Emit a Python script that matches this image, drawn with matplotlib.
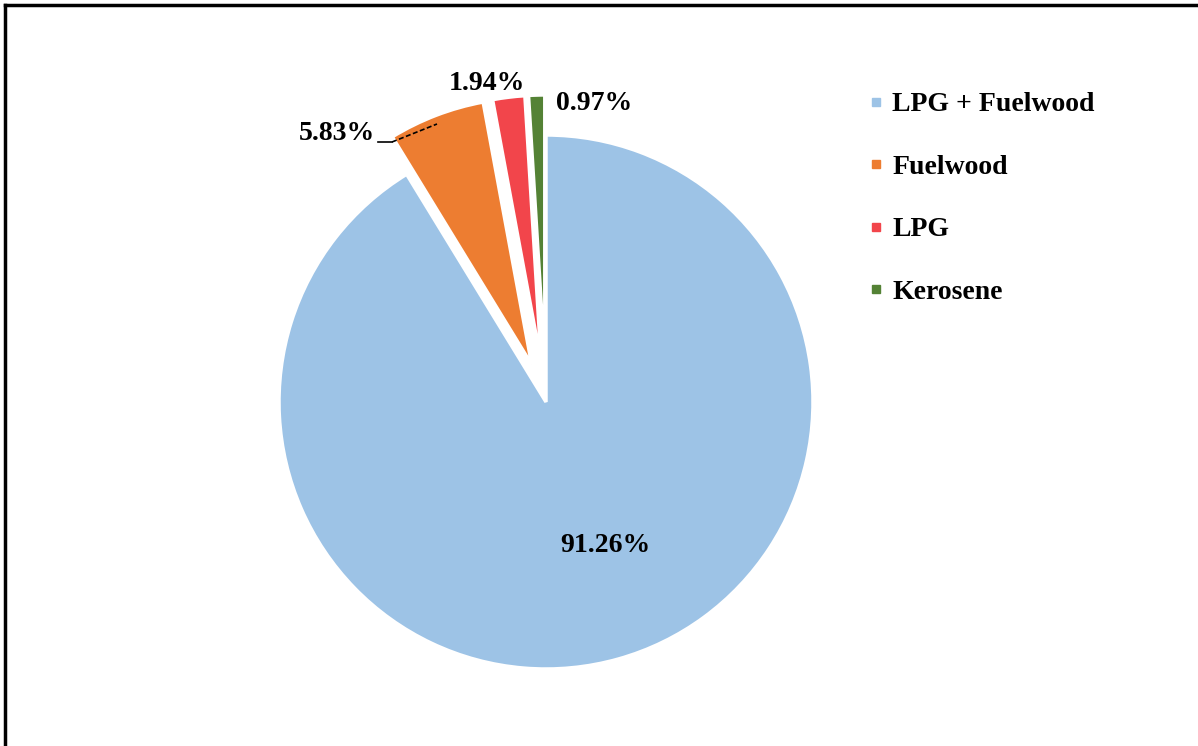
# -*- coding: utf-8 -*-
# pie chart of household cooking fuel use
import matplotlib
matplotlib.use('Agg')
import matplotlib.pyplot as plt
from matplotlib.lines import Line2D

# fuel categories and their share (%)
fuels = ['LPG + Fuelwood', 'Fuelwood', 'LPG', 'Kerosene']
shares = [91.26, 5.83, 1.94, 0.97]
colors = ['#9DC3E6', '#ED7D31', '#F2454B', '#548235']
explode = [0, 0.15, 0.15, 0.15]

plt.rcParams['font.family'] = ['Liberation Serif', 'DejaVu Serif']
plt.rcParams['font.weight'] = 'bold'

W, H = 1198, 746
R = 267
fig = plt.figure(figsize=(W / 100, H / 100), dpi=100)
# axes in pixel-like units so the pie can be placed easily
ax = fig.add_axes([0, 0, 1, 1])

# pie() does not scale explode by the radius, so do it here
wedges, _ = ax.pie(shares, colors=colors,
                   explode=[e * R for e in explode],
                   startangle=90, counterclock=False,
                   center=(546, 344), radius=R, frame=True,
                   wedgeprops={'edgecolor': 'white', 'linewidth': 2.5})
ax.set_xlim(0, W)
ax.set_ylim(0, H)
ax.axis('off')

# data labels
fs = 20
lab = ['%.2f%%' % s for s in shares]
ax.text(605, 200, lab[0], ha='center', va='center', fontsize=fs)
ax.text(375, 613, lab[1], ha='right', va='center', fontsize=fs)
ax.text(487, 662, lab[2], ha='center', va='center', fontsize=fs)
ax.text(556, 642, lab[3], ha='left', va='center', fontsize=fs)
# leader line for the Fuelwood label
ax.plot([378, 392], [604, 604], color='black', lw=1.2)
ax.plot([392, 437], [604, 622], color='black', lw=1.2, ls=(0, (3, 1.5)))

# legend with small square markers
handles = [Line2D([], [], marker='s', ls='', markersize=6,
                  markerfacecolor=c, markeredgecolor=c) for c in colors]
leg = ax.legend(handles, fuels, loc='upper left',
                bbox_to_anchor=(870 / W, 1 - 92 / H),
                bbox_transform=fig.transFigure, frameon=False,
                prop={'size': fs, 'weight': 'bold'},
                handlelength=0.45, handletextpad=0.35,
                labelspacing=1.33, borderpad=0, borderaxespad=0)

# outer frame lines (left and top)
fig.add_artist(Line2D([4.5 / W, 4.5 / W], [0, 1 - 5 / H], color='black',
                      lw=2.5, transform=fig.transFigure))
fig.add_artist(Line2D([4.5 / W, 1], [1 - 5 / H, 1 - 5 / H], color='black',
                      lw=2.5, transform=fig.transFigure))

fig.savefig('out.png', dpi=100, facecolor='white')
